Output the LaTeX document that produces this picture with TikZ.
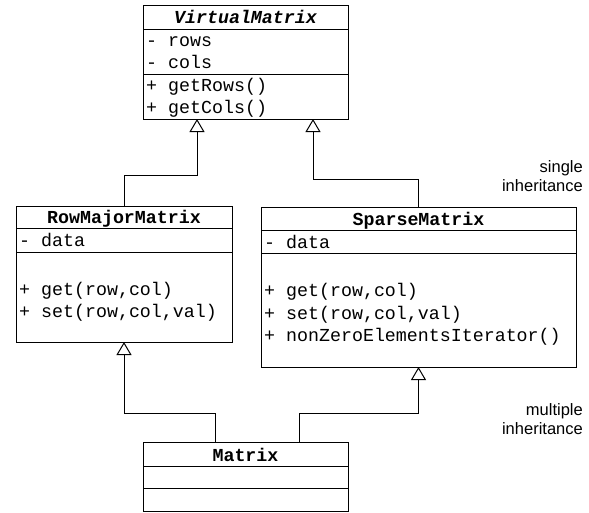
\documentclass[tikz,border=0pt]{standalone}
\usepackage{fontspec}
\setmonofont{Liberation Mono}
\setsansfont{Liberation Sans}
\usetikzlibrary{arrows.meta}
\begin{document}
\begin{tikzpicture}[x=1pt,y=-1pt,
  classbox/.style={draw, line width=1pt, rectangle, inner sep=0pt, outer sep=0pt, anchor=north west},
  sep/.style={line width=1pt},
  mono/.style={font=\ttfamily\fontsize{18.3}{22}\selectfont, inner sep=0pt},
  ttl/.style={mono, font=\ttfamily\bfseries\fontsize{18.3}{22}\selectfont, anchor=base},
  member/.style={mono, anchor=base west},
  inh/.style={line width=1pt, -{Triangle[open, width=15pt, length=13pt, line width=1pt]}},
  note/.style={font=\sffamily\fontsize{16.5}{18.5}\selectfont, align=right, anchor=east, inner sep=0pt}
]
\useasboundingbox (0,0) rectangle (589,512);

% VirtualMatrix
\node[classbox, minimum width=205pt, minimum height=114pt] (vm) at (143,5) {};
\draw[sep] (143,29) -- (348,29);
\draw[sep] (143,74) -- (348,74);
\node[ttl, font=\ttfamily\bfseries\itshape\fontsize{18.3}{22}\selectfont] (vmt) at (245.5,23) {VirtualMatrix};
\node[member] (vm1) at (146,46) {- rows};
\node[member] (vm2) at (146,68.5) {- cols};
\node[member] (vm3) at (146,91) {+ getRows()};
\node[member] (vm4) at (146,113.5) {+ getCols()};

% RowMajorMatrix
\node[classbox, minimum width=216pt, minimum height=136pt] (rm) at (16,206) {};
\draw[sep] (16,228) -- (232,228);
\draw[sep] (16,252) -- (232,252);
\node[ttl] (rmt) at (124,223) {RowMajorMatrix};
\node[member] (rm1) at (19,246.5) {- data};
\node[member] (rm2) at (19,295) {+ get(row,col)};
\node[member] (rm3) at (19,317) {+ set(row,col,val)};

% SparseMatrix
\node[classbox, minimum width=315pt, minimum height=160pt] (sp) at (261,207) {};
\draw[sep] (261,230) -- (576,230);
\draw[sep] (261,253) -- (576,253);
\node[ttl] (spt) at (418.5,225) {SparseMatrix};
\node[member] (sp1) at (264,248) {- data};
\node[member] (sp2) at (264,296.5) {+ get(row,col)};
\node[member] (sp3) at (264,319) {+ set(row,col,val)};
\node[member] (sp4) at (264,341.5) {+ nonZeroElementsIterator()};

% Matrix
\node[classbox, minimum width=205pt, minimum height=69pt] (mx) at (143,442) {};
\draw[sep] (143,466) -- (348,466);
\draw[sep] (143,488) -- (348,488);
\node[ttl] (mxt) at (245.5,461) {Matrix};

% inheritance connectors
\draw[inh] (rm.north) -- ++(0,-31) -| ([xshift=-48.5pt]vm.south);
\draw[inh] (sp.north) -- ++(0,-28) -| ([xshift=67.5pt]vm.south);
\draw[inh] ([xshift=-30.5pt]mx.north) -- ++(0,-29) -| (rm.south);
\draw[inh] ([xshift=53.5pt]mx.north) -- ++(0,-29) -| (sp.south);

% notes
\node[note] (n1) at (583,176) {single\\inheritance};
\node[note] (n2) at (583,419) {multiple\\inheritance};
\end{tikzpicture}
\end{document}
